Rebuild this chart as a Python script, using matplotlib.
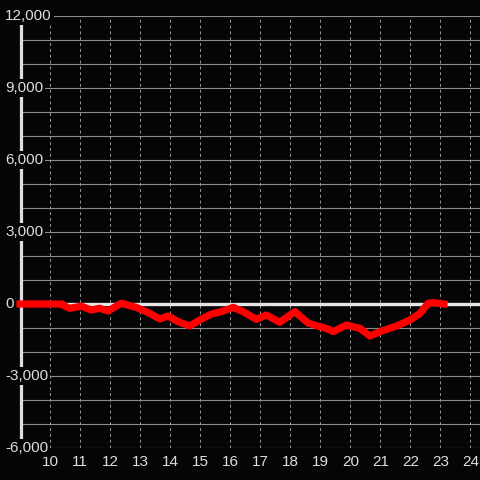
import matplotlib
matplotlib.use("Agg")
import matplotlib.pyplot as plt
from matplotlib.transforms import blended_transform_factory

hours = [9.0, 10.4, 10.48, 10.65, 11.04, 11.37, 11.65, 11.93, 12.37, 12.87,
         13.32, 13.65, 13.93, 14.26, 14.65, 14.98, 15.37, 15.7, 16.1, 16.43,
         16.87, 17.2, 17.65, 18.15, 18.59, 18.98, 19.2, 19.43, 19.87, 20.32,
         20.65, 21.04, 21.54, 21.98, 22.32, 22.59, 22.76, 23.12]
values = [0, 0, -80, -180, -90, -250, -180, -290, 30, -140,
          -390, -625, -500, -735, -915, -670, -420, -320, -140, -320,
          -640, -460, -760, -320, -790, -945, -1015, -1150, -875, -1015,
          -1335, -1125, -915, -670, -390, 30, 55, 0]

x_ticks = list(range(10, 25))
y_grid = list(range(-6000, 12001, 1000))
y_labels = [-6000, -3000, 0, 3000, 6000, 9000, 12000]

BG = "#050507"
TXT = "#dddddd"

fig = plt.figure(figsize=(4.8, 4.8), dpi=100, facecolor=BG)
W = H = 480
ax = fig.add_axes([20.5 / W, 32 / H, (480 - 20.5) / W, 432 / H], facecolor=BG)

ax.set_xlim(10 - 29.5 / 30, 10 + 429.5 / 30)
ax.set_ylim(-6000, 12000)

for s in ["top", "right", "bottom"]:
    ax.spines[s].set_visible(False)
ax.spines["left"].set_color(TXT)
ax.spines["left"].set_linewidth(2.3)

ax.set_yticks(y_grid)
ax.set_yticklabels([])
ax.tick_params(axis="y", length=0)
ax.set_xticks(x_ticks)
ax.set_xticklabels([str(t) for t in x_ticks], fontfamily="Liberation Sans",
                   fontsize=11, color=TXT)
ax.tick_params(axis="x", length=0, pad=5)

ax.grid(axis="y", color="#8c8c8c", linewidth=0.8, linestyle="-", zorder=1)
ax.grid(axis="x", color="#9a9a9a", linewidth=0.7, linestyle=(0, (3, 3)), zorder=1)
ax.set_axisbelow(True)

ax.axhline(0, color="#e6e6e6", linewidth=2.4, zorder=2)

ax.plot(hours, values, color="#ff0000", linewidth=5.2, solid_capstyle="projecting",
        solid_joinstyle="round", zorder=4, clip_on=False)

tr = blended_transform_factory(fig.transFigure, ax.transData)
for v in y_labels:
    ax.text(5 / W, v, f"{v:,}", transform=tr, ha="left", va="center",
            fontfamily="Liberation Sans", fontsize=11, color=TXT, zorder=6,
            clip_on=False,
            bbox=dict(facecolor=BG, edgecolor="none", pad=1.5))

fig.savefig("out.png", dpi=100, facecolor=BG)
